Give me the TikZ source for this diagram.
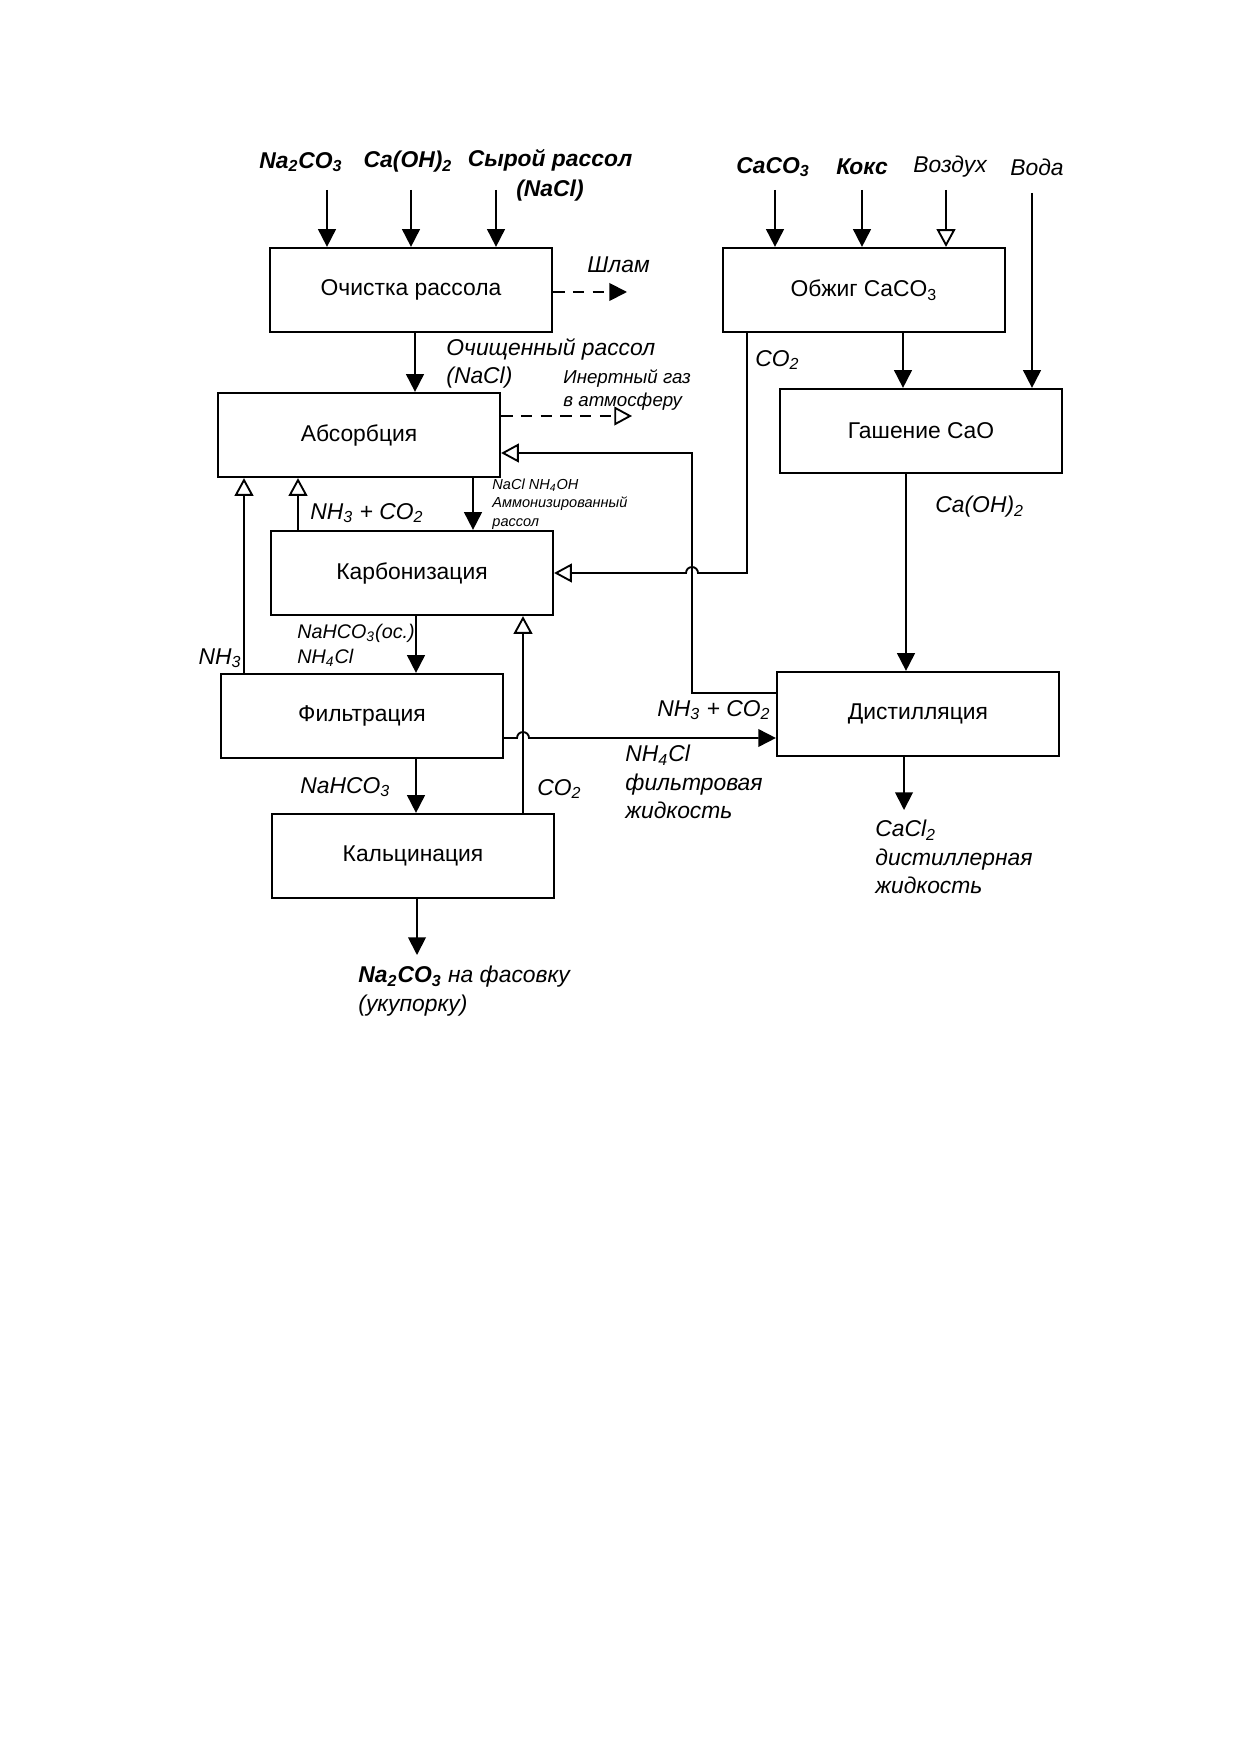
\documentclass[tikz,border=0pt]{standalone}
\usepackage{fontspec}
\setmainfont{Liberation Sans}
\usetikzlibrary{arrows.meta,positioning}
\newcommand{\sbs}[1]{\textsubscript{#1}}

\tikzset{
  proc/.style={draw,line width=1.1pt,minimum width=47.7mm,minimum height=14.2mm,
    font=\fontsize{11}{13}\selectfont},
  lbl/.style={font=\fontsize{11}{13.5}\selectfont\itshape,align=left,inner sep=0pt},
  inlbl/.style={font=\fontsize{11}{14.4}\selectfont\bfseries\itshape,align=center,inner sep=0pt},
  tiny/.style={font=\fontsize{7}{9}\selectfont\itshape,align=left,inner sep=0pt},
  flow/.style={line width=0.9pt,-{Triangle[width=8.5pt,length=8.5pt]}},
  gas/.style={line width=0.9pt,-{Triangle[open,width=9pt,length=8.5pt]}},
  vent/.style={dash pattern=on 5.5pt off 4pt},
}

\begin{document}
\begin{tikzpicture}[x=0.1692mm,y=-0.1692mm]
  \useasboundingbox (0,0) rectangle (1241,1754);

  % stages
  \node[proc] (ochist) at (411,290) {Очистка рассола};
  \node[proc] (absorb) at (359,435) {Абсорбция};
  \node[proc] (karbon) at (412,573) {Карбонизация};
  \node[proc] (filtr) at (362,716) {Фильтрация};
  \node[proc] (kalc) at (413,856) {Кальцинация};
  \node[proc] (obzhig) at (864,290) {Обжиг CaCO\sbs{3}};
  \node[proc] (gash) at (921,431) {Гашение CaO};
  \node[proc] (distil) at (918,714) {Дистилляция};

  % raw materials
  \node[inlbl] (na2co3) at (301,162) {Na\sbs{2}CO\sbs{3}};
  \node[inlbl] (caoh) at (408,162) {Ca(OH)\sbs{2}};
  \node[inlbl] (syroj) at (550,175) {Сырой рассол\\(NaCl)};
  \node[inlbl] (caco3) at (773,167) {CaCO\sbs{3}};
  \node[inlbl] (koks) at (862,167) {Кокс};
  \node[lbl] (vozduh) at (950,167) {Воздух};
  \node[lbl] (voda) at (1037,167) {Вода};

  \coordinate (s1) at (327,190);
  \coordinate (s2) at (411,190);
  \coordinate (s3) at (496,190);
  \coordinate (s4) at (775,190);
  \coordinate (s5) at (862,190);
  \coordinate (s6) at (946,190);
  \coordinate (s7) at (1032,193);
  \draw[flow] (s1) -- (s1 |- ochist.north);
  \draw[flow] (s2) -- (s2 |- ochist.north);
  \draw[flow] (s3) -- (s3 |- ochist.north);
  \draw[flow] (s4) -- (s4 |- obzhig.north);
  \draw[flow] (s5) -- (s5 |- obzhig.north);
  \draw[gas] (s6) -- (s6 |- obzhig.north);
  \draw[flow] (s7) -- (s7 |- gash.north);

  % brine line
  \coordinate (shlamend) at (627,292);
  \draw[flow,vent] (ochist.east |- shlamend) -- (shlamend);
  \node[lbl,anchor=west] (shlam) at (587,265) {Шлам};

  \draw[flow] (ochist.south -| 415,0) -- (absorb.north -| 415,0);
  \node[lbl,anchor=west] (ochrassol) at (446,363) {Очищенный рассол\\(NaCl)};

  \coordinate (inertend) at (632,416);
  \draw[gas,vent] (absorb.east |- inertend) -- (inertend);
  \node[lbl,anchor=west,font=\fontsize{9}{11.5}\selectfont\itshape] (inert) at (563,390) {Инертный газ\\в атмосферу};

  \draw[flow] (absorb.south -| 473,0) -- (karbon.north -| 473,0);
  \node[tiny,anchor=west] (ammon) at (492,504) {NaCl NH\sbs{4}OH\\Аммонизированный\\рассол};

  \draw[gas] (karbon.north -| 298,0) -- (absorb.south -| 298,0);
  \node[lbl,anchor=west] (gas1) at (310,513) {NH\sbs{3} + CO\sbs{2}};

  \draw[gas] (filtr.north -| 244,0) -- (absorb.south -| 244,0);
  \node[lbl,anchor=east] (nh3) at (242,658) {NH\sbs{3}};

  \draw[flow] (karbon.south -| 416,0) -- (filtr.north -| 416,0);
  \node[lbl,anchor=west,font=\fontsize{9.5}{12}\selectfont\itshape] (susp) at (297,645) {NaHCO\sbs{3}(ос.)\\NH\sbs{4}Cl};

  \draw[flow] (filtr.south -| 416,0) -- (kalc.north -| 416,0);
  \node[lbl,anchor=west] (nahco3) at (300,787) {NaHCO\sbs{3}};

  \draw[gas] (kalc.north -| 523,0) -- (karbon.south -| 523,0);
  \node[lbl,anchor=west] (co2b) at (537,789) {CO\sbs{2}};

  \coordinate (prod) at (417,955);
  \draw[flow] (kalc.south -| prod) -- (prod);
  \node[lbl,anchor=north west] (soda) at (358,966) {\textbf{Na\sbs{2}CO\sbs{3}} на фасовку\\(укупорку)};

  % filtrate to distillation, jumping the CO2 line
  \draw[flow] (filtr.east |- 0,738) -- (517,738) arc (180:360:6) -- (distil.west |- 0,738);
  \node[lbl,anchor=north west] (filtrat) at (625,745) {NH\sbs{4}Cl\\фильтровая\\жидкость};

  % lime kiln gas to carbonation, jumping the return line
  \draw[gas] (obzhig.south -| 747,0) -- (747,573) -- (698,573) arc (0:-180:6) -- (karbon.east);
  \node[lbl,anchor=west] (co2a) at (755,360) {CO\sbs{2}};

  % ammonia return from distillation
  \draw[gas] (distil.west |- 0,693) -- (692,693) -- (692,453) -- (absorb.east |- 0,453);
  \node[lbl,anchor=west] (gas2) at (657,710) {NH\sbs{3} + CO\sbs{2}};

  \draw[flow] (obzhig.south -| 903,0) -- (gash.north -| 903,0);
  \draw[flow] (gash.south -| 906,0) -- (distil.north -| 906,0);
  \node[lbl,anchor=west] (milk) at (935,507) {Ca(OH)\sbs{2}};

  \coordinate (cacl2end) at (904,810);
  \draw[flow] (distil.south -| cacl2end) -- (cacl2end);
  \node[lbl,anchor=north west] (cacl2) at (875,820) {CaCl\sbs{2}\\дистиллерная\\жидкость};
\end{tikzpicture}
\end{document}
